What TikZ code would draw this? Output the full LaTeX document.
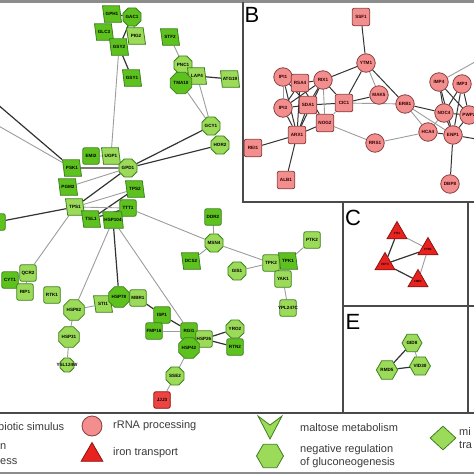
\documentclass[tikz,border=0pt]{standalone}
\usepackage{fontspec}
\setmainfont{Liberation Sans}
\setsansfont{Liberation Sans}
\usepackage{tikz}
\usetikzlibrary{shapes}
\usetikzlibrary{backgrounds}
\definecolor{gdark}{HTML}{5EC21E}
\definecolor{glight}{HTML}{9CDB5A}
\definecolor{gline}{HTML}{3D7F1E}
\definecolor{pinkfill}{HTML}{F28E8E}
\definecolor{pinkline}{HTML}{8A3E3E}
\definecolor{ironred}{HTML}{E8231F}
\definecolor{ironline}{HTML}{8A1410}
\definecolor{edgedark}{HTML}{333333}
\definecolor{edgegrey}{HTML}{9C9C9C}
\definecolor{framegrey}{HTML}{4A4A4A}
\definecolor{bandgrey}{HTML}{8C8C8C}
\definecolor{legendtext}{HTML}{3A3A3A}
\tikzset{
  gene/.style = {align=center, inner sep=0pt, text centered,
    font=\sffamily\bfseries\fontsize{4.6}{4.6}\selectfont, line width=0.8pt},
  box_dark/.style = {gene, rectangle, rounded corners=2pt, draw=gline,
    fill=gdark, minimum size=16.5pt},% carre vert fonce
  box_light/.style = {box_dark, fill=glight},% carre vert clair
  octo_dark/.style = {gene, regular polygon, regular polygon sides=8,
    draw=gline, fill=gdark, minimum size=19.5pt},
  octo_light/.style = {octo_dark, fill=glight},
  para_dark/.style = {gene, trapezium, trapezium left angle=118,
    trapezium right angle=62, trapezium stretches=true, draw=gline,
    fill=gdark, minimum height=16.5pt, minimum width=19pt},
  para_light/.style = {para_dark, fill=glight},
  hex_node/.style = {gene, regular polygon, regular polygon sides=6,
    draw=gline, fill=glight, minimum size=20pt},
  pink_circle/.style = {gene, circle, draw=pinkline, fill=pinkfill,
    minimum size=18.5pt, text=black!80!red},
  pink_box/.style = {gene, rectangle, rounded corners=2pt, draw=pinkline,
    fill=pinkfill, minimum size=17.5pt, text=black!80!red},
  red_box/.style = {box_dark, draw=ironline, fill=ironred!85!white},
  iron_node/.style = {gene, regular polygon, regular polygon sides=3,
    draw=ironline, fill=ironred, minimum size=23pt,
    font=\sffamily\bfseries\fontsize{3}{3}\selectfont},
  wide_text/.style = {label={[gene]center:#1}},% texte plus large que le noeud
  dark_edge/.style = {edgedark, line width=1.2pt},
  grey_edge/.style = {edgegrey, line width=0.9pt},
  frame_line/.style = {framegrey, line width=1.1pt},
  panel_letter/.style = {font=\sffamily\fontsize{22}{22}\selectfont, inner sep=0pt},
  legend_text/.style = {font=\sffamily\fontsize{11}{13}\selectfont,
    text=legendtext, anchor=west, align=left, inner sep=0pt}
}
\begin{document}
\begin{tikzpicture}[x=1pt, y=-1pt]
  \useasboundingbox (0,0) rectangle (474,474);
  % frames of the panels
  \fill[bandgrey] (0,0) rectangle (474,2.5);
  \fill[bandgrey] (0,471.5) rectangle (474,474);
  \draw[frame_line] (243,2) -- (243,202) -- (474,202);
  \draw[frame_line] (343,202) -- (343,413);
  \draw[frame_line] (468,202) -- (468,413);
  \draw[frame_line] (343,306) -- (474,306);
  \draw[frame_line] (0,413) -- (474,413);
  \node[panel_letter] (letB) at (252,15) {B};
  \node[panel_letter] (letC) at (353,218) {C};
  \node[panel_letter] (letE) at (353,322) {E};

  % panel A
  \node[para_dark] (GPH1) at (112,14) {GPH1};
  \node[octo_dark] (GAC1) at (132,17) {GAC1};
  \node[para_dark] (GLC3) at (104,32) {GLC3};
  \node[para_light] (PIG2) at (136,36) {PIG2};
  \node[para_dark] (GSY2) at (119,47) {GSY2};
  \node[para_dark] (GSY1) at (132,78) {GSY1};
  \node[para_dark] (STF2) at (170,37) {STF2};
  \node[octo_light] (PNC1) at (183,65) {PNC1};
  \node[para_light] (LAP4) at (197,76) {LAP4};
  \node[octo_dark] (TMA10) at (181,83) {TMA10};
  \node[para_light] (ATG19) at (230,79) {ATG19};
  \node[octo_light] (GCY1) at (211,126) {GCY1};
  \node[octo_light] (HOR2) at (220,145) {HOR2};
  \node[box_dark] (EMI2) at (91,156) {EMI2};
  \node[para_light] (UGP1) at (111,156) {UGP1};
  \node[para_dark] (PSK1) at (72,168) {PSK1};
  \node[octo_light] (GPD1) at (128,168) {GPD1};
  \node[para_dark] (PGM2) at (68,187) {PGM2};
  \node[para_dark] (TPS2) at (135,189) {TPS2};
  \node[para_light] (TPS1) at (75,207) {TPS1};
  \node[box_dark] (TFS1) at (128,208) {TTT1};
  \node[para_dark] (TSL1) at (91,219) {TSL1};
  \node[para_dark] (HSP104) at (113,220) {HSP104};
  \node[box_dark] (CUT1) at (-3,222) {};
  \node[box_dark] (DDR2) at (213,217) {DDR2};
  \node[octo_light] (MSN4) at (214,243) {MSN4};
  \node[para_dark] (DCS2) at (191,261) {DCS2};
  \node[octo_light] (GIS1) at (237,271) {GIS1};
  \node[box_light] (QCR2) at (28,273) {QCR2};
  \node[box_dark] (CYT1) at (10,280) {CYT1};
  \node[box_light] (RIP1) at (25,292) {RIP1};
  \node[box_light] (RTK1) at (52,295) {RTK1};
  \node[octo_light] (HSP82) at (74,310) {HSP82};
  \node[para_light] (STI1) at (103,304) {STI1};
  \node[octo_dark] (HSP78) at (119,297) {HSP78};
  \node[box_light] (MBR1) at (138,298) {MBR1};
  \node[box_dark] (ISP1) at (162,315) {ISP1};
  \node[box_dark] (FMP16) at (154,331) {FMP16};
  \node[box_dark] (RGI1) at (189,331) {RGI1};
  \node[box_light] (HSP26) at (204,339) {HSP26};
  \node[octo_dark] (HSP42) at (189,348) {HSP42};
  \node[octo_light] (YRO2) at (235,329) {YRO2};
  \node[box_dark] (RTN2) at (235,347) {RTN2};
  \node[octo_light] (HSP31) at (69,337) {HSP31};
  \node[octo_light, minimum size=15pt, wide_text=YSL124W] (YSL) at (67,365) {};
  \node[octo_light] (SSE2) at (175,376) {SSE2};
  \node[red_box] (JJJ3) at (162,400) {JJJ3};
  \node[box_light] (PTK2) at (312,240) {PTK2};
  \node[box_light] (TPK2) at (271,263) {TPK2};
  \node[para_dark] (TPK1) at (288,261) {TPK1};
  \node[box_light] (YAK1) at (283,279) {YAK1};
  \node[box_light, wide_text=YPL247C] (YPL) at (288,308) {};
  \coordinate (offA1) at (-10,98);
  \coordinate (offA2) at (-10,121);

  % panel B
  \node[pink_box] (SSF1) at (361,17) {SSF1};
  \node[pink_circle] (YTM1) at (366,63) {YTM1};
  \node[pink_circle] (IPI1) at (283,77) {IPI1};
  \node[pink_box] (RSA4) at (300,83) {RSA4};
  \node[pink_circle] (RIX1) at (323,80) {RIX1};
  \node[pink_circle] (IPI3) at (283,108) {IPI3};
  \node[pink_box] (SDA1) at (308,105) {SDA1};
  \node[pink_box] (CIC1) at (344,103) {CIC1};
  \node[pink_circle] (MAK5) at (379,95) {MAK5};
  \node[pink_box] (NOG2) at (325,123) {NOG2};
  \node[pink_box] (ARX1) at (297,135) {ARX1};
  \node[pink_box] (REI1) at (253,148) {REI1};
  \node[pink_box] (ALB1) at (286,180) {ALB1};
  \node[pink_circle] (RRS1) at (375,143) {RRS1};
  \node[pink_circle] (ERB1) at (405,104) {ERB1};
  \node[pink_circle] (IMP4) at (439,82) {IMP4};
  \node[pink_circle] (IMP3) at (462,84) {IMP3};
  \node[pink_circle] (HCA4) at (428,132) {HCA4};
  \node[pink_circle] (NOC4) at (444,113) {NOC4};
  \node[pink_circle] (PWP2) at (469,115) {PWP2};
  \node[pink_circle] (ENP1) at (453,135) {ENP1};
  \node[pink_circle] (DBP8) at (450,184) {DBP8};
  \coordinate (offB1) at (482,58);
  \coordinate (offB2) at (482,98);
  \coordinate (offB3) at (482,124);
  \coordinate (offB4) at (482,140);

  % panel C
  \node[iron_node] (FIT1) at (397,233) {FIT1};
  \node[iron_node] (FTR1) at (428,249) {FTR1};
  \node[iron_node] (FET3) at (385,264) {FET3};
  \node[iron_node] (FRE1) at (418,281) {FRE1};

  % panel E
  \node[hex_node] (GID8) at (412,343) {GID8};
  \node[hex_node] (VID30) at (420,366) {VID30};
  \node[hex_node] (RMD5) at (387,370) {RMD5};

  \begin{scope}[on background layer]
    \foreach \a/\b in {GAC1/GSY2, GSY2/GSY1, LAP4/ATG19, PSK1/offA1,
        GCY1/GPD1, HOR2/GPD1, PSK1/GPD1, GPD1/TPS1, TPS2/TSL1, TSL1/TFS1,
        TPS1/CUT1, HSP104/HSP78, HSP26/YRO2, HSP26/RTN2, MBR1/ISP1,
        ISP1/RGI1, GPH1/GAC1, GAC1/PIG2}
      \draw[dark_edge] (\a) -- (\b);
    \foreach \a/\b in {GSY2/UGP1, STF2/PNC1, TMA10/GCY1, LAP4/GCY1,
        PSK1/offA2, EMI2/UGP1, PGM2/GPD1, TPS1/TPS2, TPS1/TFS1, TPS1/QCR2,
        HSP104/HSP82, HSP104/RGI1, TFS1/MSN4, DDR2/MSN4, MSN4/DCS2,
        MSN4/TPK2, GIS1/TPK2, TPK1/PTK2, YAK1/YPL, HSP82/HSP31, HSP31/YSL,
        HSP82/STI1, FMP16/RGI1, RGI1/HSP42, HSP42/SSE2, SSE2/JJJ3,
        QCR2/CYT1, QCR2/RIP1}
      \draw[grey_edge] (\a) -- (\b);
    % panel B
    \foreach \a/\b in {SSF1/YTM1, YTM1/RIX1, YTM1/CIC1, YTM1/ERB1,
        CIC1/MAK5, IPI1/RSA4, IPI1/SDA1, IPI1/ARX1, RSA4/RIX1, RSA4/IPI3,
        RSA4/ARX1, RSA4/NOG2, RIX1/IPI3, RIX1/SDA1, RIX1/ARX1, IPI3/SDA1,
        IPI3/ARX1, SDA1/NOG2, SDA1/CIC1, SDA1/ARX1, NOG2/ARX1, RIX1/CIC1,
        ARX1/REI1, ARX1/ALB1, ERB1/NOC4, HCA4/ENP1, ENP1/DBP8, IMP4/NOC4,
        IMP4/PWP2, IMP3/NOC4, IMP3/PWP2, NOC4/PWP2, NOC4/ENP1, PWP2/ENP1,
        IMP4/ENP1, IMP3/ENP1, PWP2/offB2, ENP1/offB4}
      \draw[dark_edge, line width=1pt] (\a) -- (\b);
    \foreach \a/\b in {IPI1/IPI3, RIX1/NOG2, YTM1/MAK5, CIC1/ERB1,
        CIC1/NOG2, NOG2/RRS1, RRS1/HCA4, ERB1/ENP1, ERB1/HCA4, HCA4/NOC4,
        IMP4/offB1, PWP2/offB3}
      \draw[grey_edge] (\a) -- (\b);
    % panel C and E
    \foreach \a/\b in {FIT1/FET3, FET3/FTR1, FET3/FRE1, GID8/RMD5,
        RMD5/VID30}
      \draw[dark_edge] (\a) -- (\b);
    \foreach \a/\b in {FIT1/FTR1, FTR1/FRE1, GID8/VID30}
      \draw[grey_edge] (\a) -- (\b);
  \end{scope}

  % legend
  \node[legend_text] (lg1) at (-2,427) {biotic simulus};
  \node[legend_text] (lg2) at (0,447) {n};
  \node[legend_text] (lg3) at (0,462) {ess};
  \node[circle, draw=pinkline, fill=pinkfill, minimum size=20pt,
    line width=0.8pt] (lgcirc) at (92,426) {};
  \node[legend_text] (lg4) at (113,426) {rRNA processing};
  \node[regular polygon, regular polygon sides=3, draw=ironline,
    fill=ironred, minimum size=25pt, line width=0.8pt, inner sep=0pt]
    (lgtri) at (92,455) {};
  \node[legend_text] (lg5) at (113,453) {iron transport};
  \fill[glight, draw=gline, line width=0.8pt]
    (258,416) -- (270,425) -- (282,416) -- (270,439) -- cycle;
  \node[legend_text] (lg6) at (300,428) {maltose metabolism};
  \node[regular polygon, regular polygon sides=6, draw=gline, fill=glight,
    minimum size=27pt, line width=0.8pt, inner sep=0pt] (lghex) at (270,456) {};
  \node[legend_text] (lg7) at (300,456) {negative regulation\\of gluconeogenesis};
  \node[diamond, draw=gline, fill=glight, minimum width=26pt,
    minimum height=24pt, line width=0.8pt, inner sep=0pt] (lgdia) at (443,438) {};
  \node[legend_text] (lg8) at (459,438) {mi\\tra};
\end{tikzpicture}
\end{document}
